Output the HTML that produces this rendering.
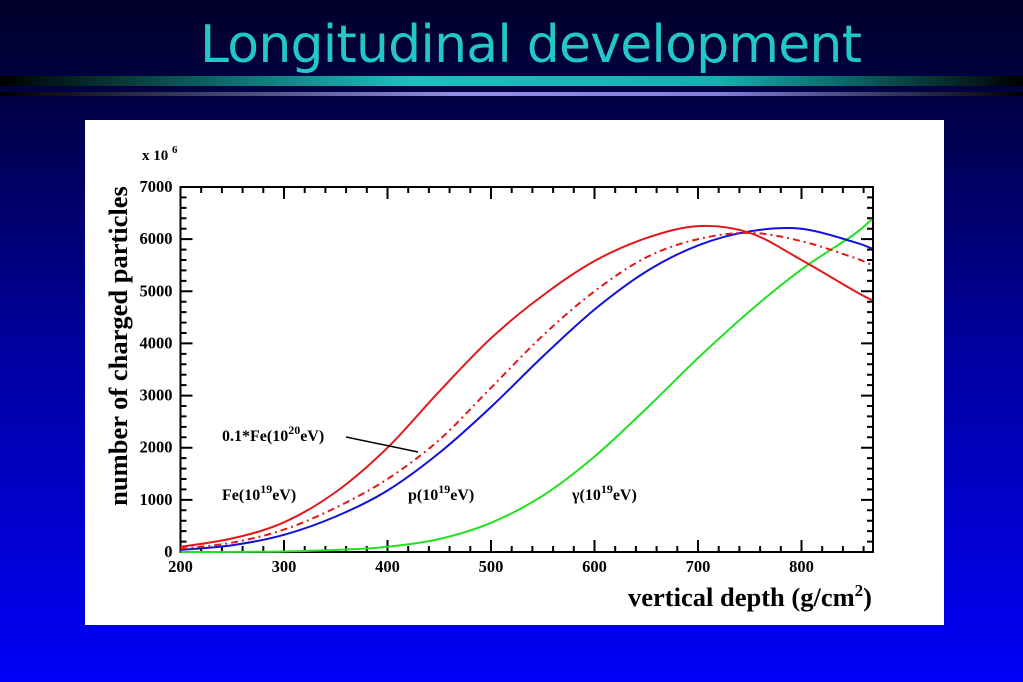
<!DOCTYPE html>
<html><head><meta charset="utf-8"><style>
html,body{margin:0;padding:0;width:1023px;height:682px;overflow:hidden;}
body{background:linear-gradient(to bottom,#000028 0px,#000048 110px,#0000a0 350px,#0000f8 682px);}
svg{position:absolute;left:0;top:0;}
</style></head><body>
<svg width="1023" height="682">
<defs>
<linearGradient id="g1" x1="0" x2="1"><stop offset="0" stop-color="#000"/><stop offset="0.4" stop-color="#1cc0c0"/><stop offset="0.7" stop-color="#16b0b0"/><stop offset="1" stop-color="#000"/></linearGradient>
<linearGradient id="g2" x1="0" x2="1"><stop offset="0" stop-color="#000"/><stop offset="0.45" stop-color="#9090e8"/><stop offset="0.7" stop-color="#8080e0"/><stop offset="1" stop-color="#000"/></linearGradient>
</defs>
<text x="531" y="62" text-anchor="middle" font-family="'DejaVu Sans',sans-serif" font-size="52" fill="#22c8c8" textLength="662">Longitudinal development</text>
<rect x="0" y="76" width="1023" height="10" fill="url(#g1)"/>
<rect x="0" y="92" width="1023" height="4" fill="url(#g2)"/>
<rect x="85" y="120" width="859" height="505" fill="#fff"/>
<g id="chart"></g>
</svg>
<script>
const xs=[200,250,300,350,400,450,500,550,600,650,700,750,800,850,868];
const feVals=[100,260,570,1150,2000,3080,4100,4920,5580,6020,6250,6120,5600,5020,4830];
const pVals=[40,130,330,680,1180,1900,2780,3750,4650,5380,5880,6150,6200,5950,5820];
const fe20Vals=[60,180,430,850,1400,2150,3150,4150,5000,5650,6000,6120,5960,5650,5500];
const gVals=[0,2,10,40,100,250,560,1080,1830,2750,3720,4620,5420,6080,6380];
const xTicks=[200,300,400,500,600,700,800];
const yTicks=[0,1000,2000,3000,4000,5000,6000,7000];
const L=180.5,R=873,B=552,T=187;
const X=v=>L+(v-200)*1.035;
const Y=v=>B-(v/7000)*(B-T);
const NS='http://www.w3.org/2000/svg';
const g=document.getElementById('chart');
function mk(t,a,p){const e=document.createElementNS(NS,t);for(const k in a)e.setAttribute(k,a[k]);(p||g).appendChild(e);return e;}
const frame=mk('rect',{x:L,y:T,width:R-L,height:B-T,fill:'none',stroke:'#000','stroke-width':2});


let d='';
for(let v=200;v<=860;v+=20){const x=X(v);const len=(v%100===0)?12:6;d+=`M${x},${B}v${-len}M${x},${T}v${len}`;}
for(let v=0;v<=7000;v+=200){const y=Y(v);const len=(v%1000===0)?12:6;d+=`M${L},${y}h${len}M${R},${y}h${-len}`;}
const ticks=mk('path',{d:d,stroke:'#000','stroke-width':2,fill:'none'});


const font="'Liberation Serif',serif";
xTicks.forEach(v=>{const t=mk('text',{x:X(v),y:B+20,'text-anchor':'middle','font-family':font,'font-weight':'bold','font-size':16.5});t.textContent=v;

});
yTicks.forEach(v=>{const t=mk('text',{x:L-8,y:Y(v)+5,'text-anchor':'end','font-family':font,'font-weight':'bold','font-size':16.5});t.textContent=v;

});
function line(vals,color,dash,name){
const P=xs.map((x,i)=>[X(x),Y(vals[i])]);
let p='M'+P[0][0].toFixed(1)+','+P[0][1].toFixed(1);
for(let i=0;i<P.length-1;i++){const p0=P[i-1]||P[i],p1=P[i],p2=P[i+1],p3=P[i+2]||p2;
const c1=[p1[0]+(p2[0]-p0[0])/6,p1[1]+(p2[1]-p0[1])/6],c2=[p2[0]-(p3[0]-p1[0])/6,p2[1]-(p3[1]-p1[1])/6];
p+=`C${c1[0].toFixed(1)},${c1[1].toFixed(1)} ${c2[0].toFixed(1)},${c2[1].toFixed(1)} ${p2[0].toFixed(1)},${p2[1].toFixed(1)}`;}
const a={d:p,fill:'none',stroke:color,'stroke-width':2};if(dash)a['stroke-dasharray']=dash;
const e=mk('path',a);

}
line(gVals,'#22e022',null,'gamma-curve');
line(pVals,'#1010e0',null,'proton-curve');
line(fe20Vals,'#e01818','7,4,2,4','fe20-curve');
line(feVals,'#e01818',null,'fe19-curve');
</script>
<svg width="1023" height="682" style="pointer-events:none">
<g font-family="'Liberation Serif',serif" font-weight="bold">
<text x="142" y="160" font-size="15">x 10 <tspan dy="-7" font-size="11">6</tspan></text>
<text transform="translate(127,346) rotate(-90)" text-anchor="middle" font-size="26.5">number of charged particles</text>
<text x="872" y="606" text-anchor="end" font-size="26.5">vertical depth (g/cm<tspan dy="-10" font-size="17">2</tspan><tspan dy="10">)</tspan></text>
<text x="222" y="441" font-size="16">0.1*Fe(10<tspan dy="-7" font-size="12">20</tspan><tspan dy="7">eV)</tspan></text>
<line x1="346" y1="437" x2="418" y2="452" stroke="#000" stroke-width="1.5"/>
<text x="222" y="500" font-size="16">Fe(10<tspan dy="-7" font-size="12">19</tspan><tspan dy="7">eV)</tspan></text>
<text x="408" y="500" font-size="16">p(10<tspan dy="-7" font-size="12">19</tspan><tspan dy="7">eV)</tspan></text>
<text x="572" y="500" font-size="16">γ(10<tspan dy="-7" font-size="12">19</tspan><tspan dy="7">eV)</tspan></text>
</g>
</svg>
</body></html>
